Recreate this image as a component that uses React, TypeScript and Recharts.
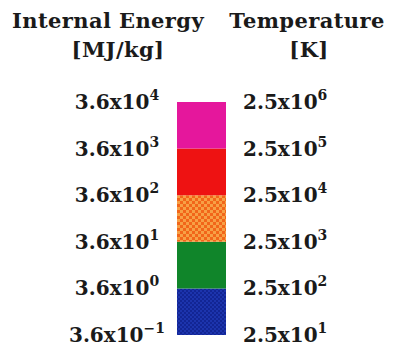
import React from 'react';
import { BarChart, Bar, XAxis, YAxis } from 'recharts';

// Decade boundaries of the colour scale, bottom to top
const energyExponents = [-1, 0, 1, 2, 3, 4]; // 3.6x10^n MJ/kg
const temperatureExponents = [1, 2, 3, 4, 5, 6]; // 2.5x10^n K
const energyMantissa = '3.6';
const temperatureMantissa = '2.5';

// Colour bands, bottom to top
const bandKeys = ['blue', 'green', 'orange', 'red', 'magenta'];
const bandFills = ['url(#blueDither)', '#10852a', 'url(#orangeDither)', '#ee1212', '#e5179c'];

const WIDTH = 393;
const HEIGHT = 352;
const FONT = '"DejaVu Serif", "Liberation Serif", serif';

// One category; each band spans one decade of the energy scale
const row: Record<string, number | string> = { name: 'scale' };
bandKeys.forEach((k, i) => {
  row[k] = energyExponents[i + 1] - energyExponents[i];
});
const data = [row];
const tickIndices = energyExponents.map((e) => e - energyExponents[0]);

const minus = (n: number) => (n < 0 ? '\u2212' + Math.abs(n) : String(n));

const Power = ({ x, y, mantissa, exp, anchor }: { x: number; y: number; mantissa: string; exp: number; anchor: 'start' | 'middle' | 'end' }) => (
  <text
    x={x}
    y={y}
    dy={7}
    textAnchor={anchor}
    fontFamily={FONT}
    fontWeight="bold"
    fontSize={20}
    fill="#1a1a1a"
  >
    <tspan>{mantissa}x10</tspan>
    <tspan dy={-9} fontSize={14}>{minus(exp)}</tspan>
  </text>
);

// Each boundary carries the energy on the left and the matching temperature on the right
const ScaleTick = (props: any) => {
  const { y, payload } = props;
  const i = payload.value as number;
  return (
    <g>
      <Power x={117} y={y} mantissa={energyMantissa} exp={energyExponents[i]} anchor="middle" />
      <Power x={243} y={y} mantissa={temperatureMantissa} exp={temperatureExponents[i]} anchor="start" />
    </g>
  );
};

export default function App() {
  return (
    <div style={{ position: 'absolute', left: 0, top: 0, width: WIDTH, height: HEIGHT, background: '#fff' }}>
      <svg width={WIDTH} height={70} style={{ position: 'absolute', left: 0, top: 0 }}>
        <g fontFamily={FONT} fontWeight="bold" fontSize={21} letterSpacing={0.4} fill="#1a1a1a" textAnchor="middle">
          <text x={108} y={28}>Internal Energy</text>
          <text x={118} y={57}>[MJ/kg]</text>
          <text x={307} y={28}>Temperature</text>
          <text x={309} y={57}>[K]</text>
        </g>
      </svg>
      <BarChart
        width={WIDTH}
        height={HEIGHT}
        data={data}
        margin={{ top: 102, bottom: 17, left: 0, right: 167 }}
        barCategoryGap={0}
        style={{ position: 'absolute', left: 0, top: 0 }}
      >
        <defs>
          <pattern id="orangeDither" width="6" height="6" patternUnits="userSpaceOnUse">
            <rect width="6" height="6" fill="#f2661a" />
            <rect width="3" height="3" fill="#f7a045" />
            <rect x="3" y="3" width="3" height="3" fill="#f7a045" />
          </pattern>
          <pattern id="blueDither" width="4" height="4" patternUnits="userSpaceOnUse">
            <rect width="4" height="4" fill="#1c34ad" />
            <rect width="2" height="2" fill="#122594" />
            <rect x="2" y="2" width="2" height="2" fill="#122594" />
          </pattern>
        </defs>
        <XAxis dataKey="name" hide />
        <YAxis
          type="number"
          domain={[0, tickIndices[tickIndices.length - 1]]}
          ticks={tickIndices}
          interval={0}
          width={177}
          axisLine={false}
          tickLine={false}
          tick={ScaleTick}
        />
        {bandKeys.map((k, i) => (
          <Bar
            key={k}
            dataKey={k}
            stackId="scale"
            fill={bandFills[i]}
            isAnimationActive={false}
          />
        ))}
      </BarChart>
    </div>
  );
}
